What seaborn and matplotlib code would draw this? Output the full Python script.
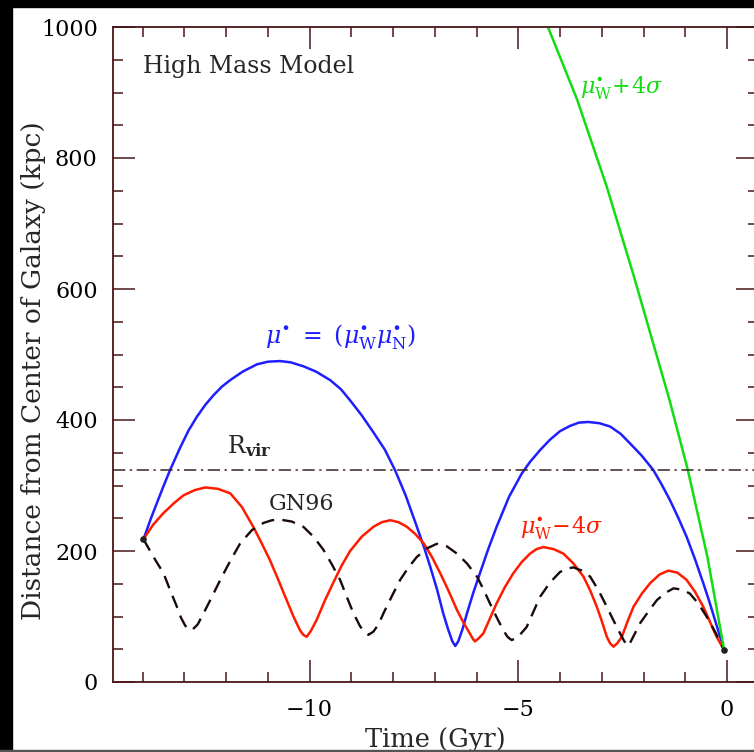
import matplotlib
matplotlib.use("Agg")
import matplotlib.pyplot as plt
import seaborn as sns
import pandas as pd
from matplotlib.patches import Rectangle

# ---- data ----
blue_t = [-13.98, -13.80, -13.66, -13.50, -13.34, -13.10, -12.90, -12.70, -12.50, -12.30, -12.10,
          -11.90, -11.60, -11.26, -11.00, -10.71, -10.45, -10.15, -9.85, -9.51, -9.25, -9.03,
          -8.75, -8.47, -8.20, -7.95, -7.70, -7.43, -7.25, -7.11, -6.95, -6.80, -6.68, -6.58,
          -6.51, -6.44, -6.34, -6.23, -6.08, -5.92, -5.72, -5.52, -5.22, -4.92, -4.72, -4.48,
          -4.24, -4.00, -3.76, -3.55, -3.32, -3.05, -2.80, -2.55, -2.32, -2.05, -1.77, -1.57,
          -1.37, -1.17, -0.97, -0.77, -0.57, -0.43, -0.29, -0.18, -0.07]
blue_r = [218, 250, 273, 299, 324, 358, 384, 405, 423, 438, 451,
          461, 474, 485, 489, 490, 488, 482, 474, 461, 447, 430,
          407, 381, 355, 323, 285, 237, 204, 176, 142, 105, 80, 62,
          55, 62, 80, 105, 136, 166, 203, 237, 283, 318, 336, 354,
          370, 383, 391, 396, 397, 395, 390, 379, 364, 346, 324, 302,
          278, 251, 222, 188, 151, 124, 95, 72, 49]

red_t = [-13.98, -13.75, -13.50, -13.25, -13.02, -12.75, -12.50, -12.20, -11.90, -11.62, -11.35,
         -11.15, -10.95, -10.75, -10.55, -10.38, -10.23, -10.15, -10.07, -9.97, -9.83, -9.63,
         -9.43, -9.23, -9.03, -8.75, -8.47, -8.27, -8.07, -7.87, -7.67, -7.47, -7.27, -7.07,
         -6.87, -6.67, -6.47, -6.30, -6.16, -6.09, -6.04, -5.96, -5.84, -5.68, -5.52, -5.32,
         -5.12, -4.92, -4.72, -4.56, -4.40, -4.16, -3.92, -3.68, -3.44, -3.28, -3.12, -3.00,
         -2.88, -2.80, -2.72, -2.63, -2.52, -2.38, -2.24, -2.04, -1.84, -1.62, -1.41, -1.19,
         -0.97, -0.77, -0.57, -0.41, -0.25, -0.07]
red_r = [218, 240, 258, 273, 285, 293, 297, 295, 288, 267, 237,
         212, 186, 156, 125, 99, 79, 72, 69, 78, 95, 125,
         152, 178, 200, 222, 237, 244, 247, 244, 237, 226, 212, 191,
         166, 139, 110, 89, 74, 66, 62, 66, 74, 97, 120, 145,
         166, 183, 196, 203, 206, 203, 196, 181, 161, 140, 115, 93,
         69, 59, 54, 59, 69, 93, 115, 135, 151, 164, 170, 167,
         156, 138, 115, 92, 69, 49]

gn_t = [-13.98, -13.75, -13.50, -13.34, -13.18, -13.08, -12.98, -12.90, -12.82, -12.68, -12.54,
        -12.34, -12.14, -11.90, -11.66, -11.38, -11.10, -10.90, -10.71, -10.43, -10.15, -9.91,
        -9.67, -9.47, -9.27, -9.11, -8.95, -8.79, -8.67, -8.59, -8.47, -8.35, -8.23, -8.03,
        -7.83, -7.63, -7.43, -7.19, -6.95, -6.71, -6.47, -6.23, -5.99, -5.84, -5.68, -5.52,
        -5.36, -5.26, -5.16, -5.02, -4.88, -4.80, -4.64, -4.48, -4.24, -4.00, -3.84, -3.68,
        -3.48, -3.28, -3.08, -2.88, -2.72, -2.56, -2.46, -2.36, -2.24, -2.08, -1.88, -1.68,
        -1.48, -1.28, -1.08, -0.89, -0.69, -0.49, -0.28, -0.07]
gn_r = [218, 192, 166, 140, 115, 98, 86, 81, 79, 88, 105,
        130, 156, 185, 212, 232, 243, 247, 248, 245, 237, 222,
        202, 180, 156, 130, 105, 85, 75, 72, 77, 88, 105, 131,
        156, 175, 191, 204, 211, 207, 196, 181, 161, 142, 120, 99,
        79, 69, 64, 68, 78, 84, 107, 130, 152, 168, 173, 175,
        170, 161, 140, 115, 94, 74, 62, 55, 70, 90, 108, 125,
        136, 143, 141, 135, 120, 100, 76, 49]

green_t = [-4.29, -3.59, -2.88, -2.23, -1.38, -0.94, -0.47, -0.07]
green_r = [1000, 889, 756, 619, 431, 324, 191, 49]

r_vir = 324
x_major = [-10, -5, 0]
y_major = [0, 200, 400, 600, 800, 1000]

# ---- style ----
sns.set_style("ticks")
plt.rcParams["font.family"] = ["DejaVu Serif"]
plt.rcParams["mathtext.fontset"] = "dejavuserif"
spine_c = "#4a1616"

fig = plt.figure(figsize=(7.54, 7.52), dpi=100)
fig.patch.set_facecolor("white")
ax = fig.add_axes([113 / 754, 70 / 752, 645 / 754, 655 / 752])

def frame(t, r, name):
    return pd.DataFrame({"t": t, "r": r, "s": name})

sns.lineplot(data=frame(blue_t, blue_r, "b"), x="t", y="r", sort=False, estimator=None,
             color="#1e1eff", lw=1.8, ax=ax)
sns.lineplot(data=frame(red_t, red_r, "r"), x="t", y="r", sort=False, estimator=None,
             color="#ff1a00", lw=1.8, ax=ax)
sns.lineplot(data=frame(gn_t, gn_r, "g"), x="t", y="r", sort=False, estimator=None,
             color="#1a0a0a", lw=1.7, ax=ax, linestyle=(0, (5.5, 3.5)))
sns.lineplot(data=frame(green_t, green_r, "gr"), x="t", y="r", sort=False, estimator=None,
             color="#12dd12", lw=1.8, ax=ax)
ax.axhline(r_vir, color="#3a2222", lw=1.1, linestyle=(0, (8, 3, 1.5, 3)))
ax.scatter([blue_t[0], blue_t[-1]], [blue_r[0], blue_r[-1]], s=14, color="#202020", zorder=5)

ax.set_xlim(-14.71, 0.742)
ax.set_ylim(0, 1000)
ax.set_xticks(x_major)
ax.set_xticklabels(["\u221210", "\u22125", "0"])
ax.set_yticks(y_major)
ax.set_yticklabels([str(v) for v in y_major])
ax.set_xticks([v for v in range(-14, 1)], minor=True)
ax.set_yticks(list(range(0, 1001, 50)), minor=True)
ax.tick_params(which="both", direction="in", top=True, right=True, colors=spine_c,
               labelcolor="black", labelsize=16, width=1.1)
ax.tick_params(which="major", length=16)
ax.tick_params(which="minor", length=7)
ax.tick_params(axis="x", pad=12)
ax.tick_params(axis="y", pad=11)
for s in ax.spines.values():
    s.set_color(spine_c)
    s.set_linewidth(1.3)

ax.set_xlabel("Time (Gyr)", fontsize=18.5)
ax.set_ylabel("Distance from Center of Galaxy (kpc)", fontsize=19)
ax.xaxis.set_label_coords(0.5, -0.069)
ax.yaxis.set_label_coords(-0.104, 0.476)

ax.text(-13.99, 939, "High Mass Model", fontsize=17, ha="left", va="center")
ax.text(-11.07, 527, r"$\mu^{\bullet}\ =\ (\mu^{\bullet}_{\rm W}\mu^{\bullet}_{\rm N})$",
        fontsize=17, color="#1e1eff", ha="left", va="center")
ax.text(-11.98, 350, r"R$_{\bf vir}$", fontsize=17, ha="left", va="baseline")
ax.text(-10.99, 263, "GN96", fontsize=16, ha="left", va="baseline")
ax.text(-4.96, 227, r"$\mu^{\bullet}_{\rm W}\!-\!4\sigma$", fontsize=16, color="#ff1a00",
        ha="left", va="baseline")
ax.text(-3.52, 899, r"$\mu^{\bullet}_{\rm W}\!+\!4\sigma$", fontsize=16, color="#12dd12",
        ha="left", va="baseline")

# black frame strips of the screenshot
fig.patches.append(Rectangle((0, 0), 12 / 754, 1, transform=fig.transFigure,
                             color="black", zorder=10))
fig.patches.append(Rectangle((0, 1 - 7 / 752), 1, 7 / 752, transform=fig.transFigure,
                             color="black", zorder=10))
fig.patches.append(Rectangle((0, 0), 1, 2 / 752, transform=fig.transFigure,
                             color="#555555", zorder=10))

fig.savefig("out.png", dpi=100)
